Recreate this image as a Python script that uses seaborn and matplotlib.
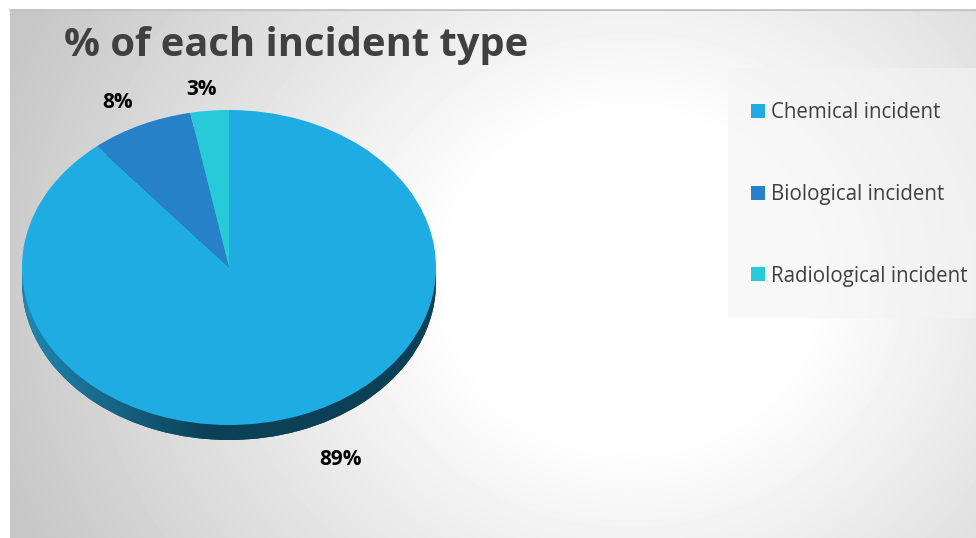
import numpy as np
import seaborn as sns
import matplotlib.pyplot as plt
from matplotlib.patches import Rectangle
from matplotlib.lines import Line2D

# Data
incident_types = ["Chemical incident", "Biological incident", "Radiological incident"]
shares = [89, 8, 3]
colors = ["#1eace3", "#2681c8", "#26cad8"]

sns.set_theme(style="white")
plt.rcParams["font.family"] = ["Open Sans", "DejaVu Sans"]

fig = plt.figure(figsize=(9.76, 5.38), dpi=100)
W, H = 976, 538

# Background: radial grey-to-white gradient over the chart area
bg = fig.add_axes([10 / W, 0, 966 / W, 528 / H])
yy, xx = np.mgrid[0:528, 0:966]
cx, cy = 620, 270
d = np.sqrt(((xx - cx) / 1.0) ** 2 + ((yy - cy) / 0.9) ** 2)
val = np.clip(1 - (d - 180) / 480 * 0.22, 0.78, 1.0)
bg.imshow(val, cmap="gray", vmin=0, vmax=1, aspect="auto", interpolation="bilinear")
bg.axis("off")
fig.add_artist(Line2D([10 / W, 1], [1 - 10 / H, 1 - 10 / H], color="#bdbdbd", lw=1.2))

# Pie axes (squashed to look tilted)
ax = fig.add_axes([22 / W, 1 - 440 / H, 414 / W, 330 / H])
depth = 15 / 157.5

side_colors = ["#0b4058", "#184f80", "#177f88"]
side, _ = ax.pie(shares, colors=side_colors, startangle=90, counterclock=False,
                 center=(0, -depth), wedgeprops=dict(linewidth=0))
# shading on the rim
grad = np.linspace(0, 1, 200)
left = np.array([0x1f, 0x88, 0xb2]) / 255
right = np.array([0x0b, 0x40, 0x56]) / 255
t = np.clip(grad / 0.45, 0, 1)[None, :, None]
rim = left * (1 - t) + right * t
im = ax.imshow(rim, extent=(-1, 1, -1 - depth, 1), aspect="auto", zorder=1.5)
im.set_clip_path(side[0])

wedges, texts, autotexts = ax.pie(
    shares, colors=colors, startangle=90, counterclock=False,
    autopct="%d%%", pctdistance=1.25,
    wedgeprops=dict(linewidth=0),
    textprops=dict(fontsize=15, fontweight="bold", color="black"),
)
for w in wedges:
    w.set_zorder(2)
autotexts[0].set_position((0.54, -1.22))
autotexts[1].set_position((-0.54, 1.05))
autotexts[2].set_position((-0.135, 1.13))
for a in autotexts:
    a.set_clip_on(False)

ax.set_aspect("auto")
ax.set_xlim(-1, 1)
ax.set_ylim(-1 - depth, 1)
ax.axis("off")

# Title
fig.text(64 / W, 1 - 46 / H, "% of each incident type", fontsize=28.7, fontweight="bold",
         color="#404040", va="center", ha="left")

# Legend box and entries
fig.add_artist(Rectangle((728 / W, 1 - 318 / H), (W - 728) / W, 250 / H,
                         transform=fig.transFigure, facecolor="#f4f4f4", alpha=0.6,
                         edgecolor="none"))
handles = [Rectangle((0, 0), 1, 1, facecolor=c, edgecolor="none") for c in colors]
fig.legend(handles, incident_types, loc="upper left",
           bbox_to_anchor=(741 / W, 1 - 92 / H), frameon=False, fontsize=14.8,
           labelcolor="#404040", handlelength=0.68, handleheight=0.68,
           handletextpad=0.3, labelspacing=2.95, borderpad=0)

fig.savefig("out.png", dpi=100)
